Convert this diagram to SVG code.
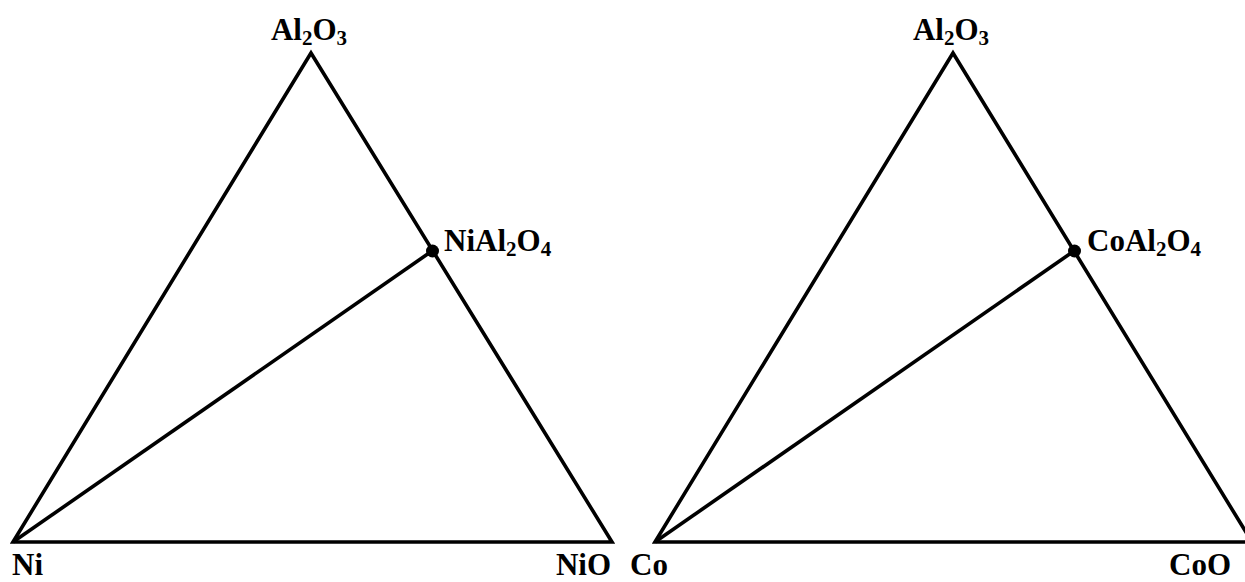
<svg xmlns="http://www.w3.org/2000/svg" width="1245" height="582" viewBox="0 0 1245 582">
<style>
.ln{fill:none;stroke:#000;stroke-width:3.6;stroke-linejoin:miter}
.t{font-family:"Liberation Serif","Times New Roman",serif;font-weight:bold;font-size:31px;fill:#000}
.s{font-size:21px}
</style>
<rect width="1245" height="582" fill="#fff"/>
<g id="connectors">
<polygon class="ln" points="311,53 13,542 612,542"/>
<line class="ln" x1="13" y1="542" x2="432" y2="251"/>
<polygon class="ln" points="953,53 655,542 1252,542"/>
<line class="ln" x1="655" y1="542" x2="1074" y2="251"/>
</g>
<g id="node-al2o3-left"><text class="t" x="309" y="40" text-anchor="middle">Al<tspan class="s" dy="5">2</tspan><tspan dy="-5">O</tspan><tspan class="s" dy="5">3</tspan></text></g>
<g id="node-nial2o4"><circle cx="432.5" cy="251" r="6.5"/><text class="t" x="444" y="251">NiAl<tspan class="s" dy="5">2</tspan><tspan dy="-5">O</tspan><tspan class="s" dy="5">4</tspan></text></g>
<g id="node-ni"><text class="t" x="12" y="575">Ni</text></g>
<g id="node-nio"><text class="t" x="611" y="575" text-anchor="end">NiO</text></g>
<g id="node-al2o3-right"><text class="t" x="951" y="40" text-anchor="middle">Al<tspan class="s" dy="5">2</tspan><tspan dy="-5">O</tspan><tspan class="s" dy="5">3</tspan></text></g>
<g id="node-coal2o4"><circle cx="1074.5" cy="251" r="6.5"/><text class="t" x="1087" y="251">CoAl<tspan class="s" dy="5">2</tspan><tspan dy="-5">O</tspan><tspan class="s" dy="5">4</tspan></text></g>
<g id="node-co"><text class="t" x="630" y="575">Co</text></g>
<g id="node-coo"><text class="t" x="1231" y="575" text-anchor="end">CoO</text></g>
</svg>
